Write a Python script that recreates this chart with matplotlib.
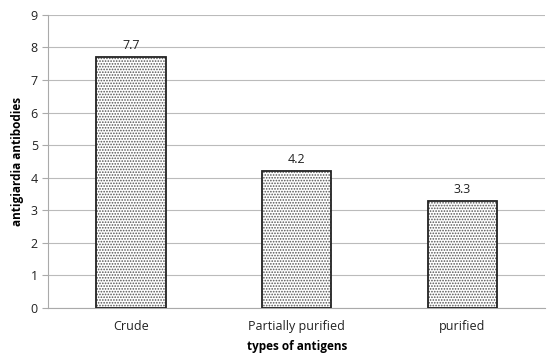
import numpy as np
import matplotlib.pyplot as plt

plt.rcParams['font.family'] = ['Open Sans', 'DejaVu Sans']
plt.rcParams['hatch.linewidth'] = 0.8

# data
categories = ['Crude', 'Partially purified', 'purified']
values = [7.7, 4.2, 3.3]

fig = plt.figure(figsize=(5.5, 3.54), dpi=100)
ax = fig.add_axes([0.088, 0.13, 0.903, 0.828])

x = np.arange(len(categories))
# dotted fill (hatch) and the black outline drawn separately
ax.bar(x, values, width=0.42, color='white', edgecolor='#555555',
       hatch='......', linewidth=0, zorder=3)
ax.bar(x, values, width=0.42, color='none', edgecolor='#222222',
       linewidth=1.3, zorder=4)

for xi, v in zip(x, values):
    ax.text(xi, v + 0.15, str(v), ha='center', va='bottom', fontsize=9, color='#222222')

ax.set_xlim(-0.5, len(categories) - 0.5)
ax.set_ylim(0, 9)
ax.set_yticks(range(0, 10))
ax.set_xticks(x)
ax.set_xticklabels(categories)
ax.tick_params(axis='x', length=0, labelsize=9, pad=9, colors='#222222')
ax.tick_params(axis='y', length=4, labelsize=9, color='#aaaaaa', labelcolor='#222222')

ax.grid(axis='y', color='#bbbbbb', linewidth=0.8, zorder=0)
for s in ['top', 'right']:
    ax.spines[s].set_visible(False)
ax.spines['left'].set_color('#aaaaaa')
ax.spines['bottom'].set_color('#aaaaaa')

ax.set_xlabel('types of antigens', fontsize=8.5, fontweight='bold', labelpad=5)
ax.set_ylabel('antigiardia antibodies', fontsize=8.5, fontweight='bold', labelpad=5)

fig.savefig('out.png', dpi=100)
